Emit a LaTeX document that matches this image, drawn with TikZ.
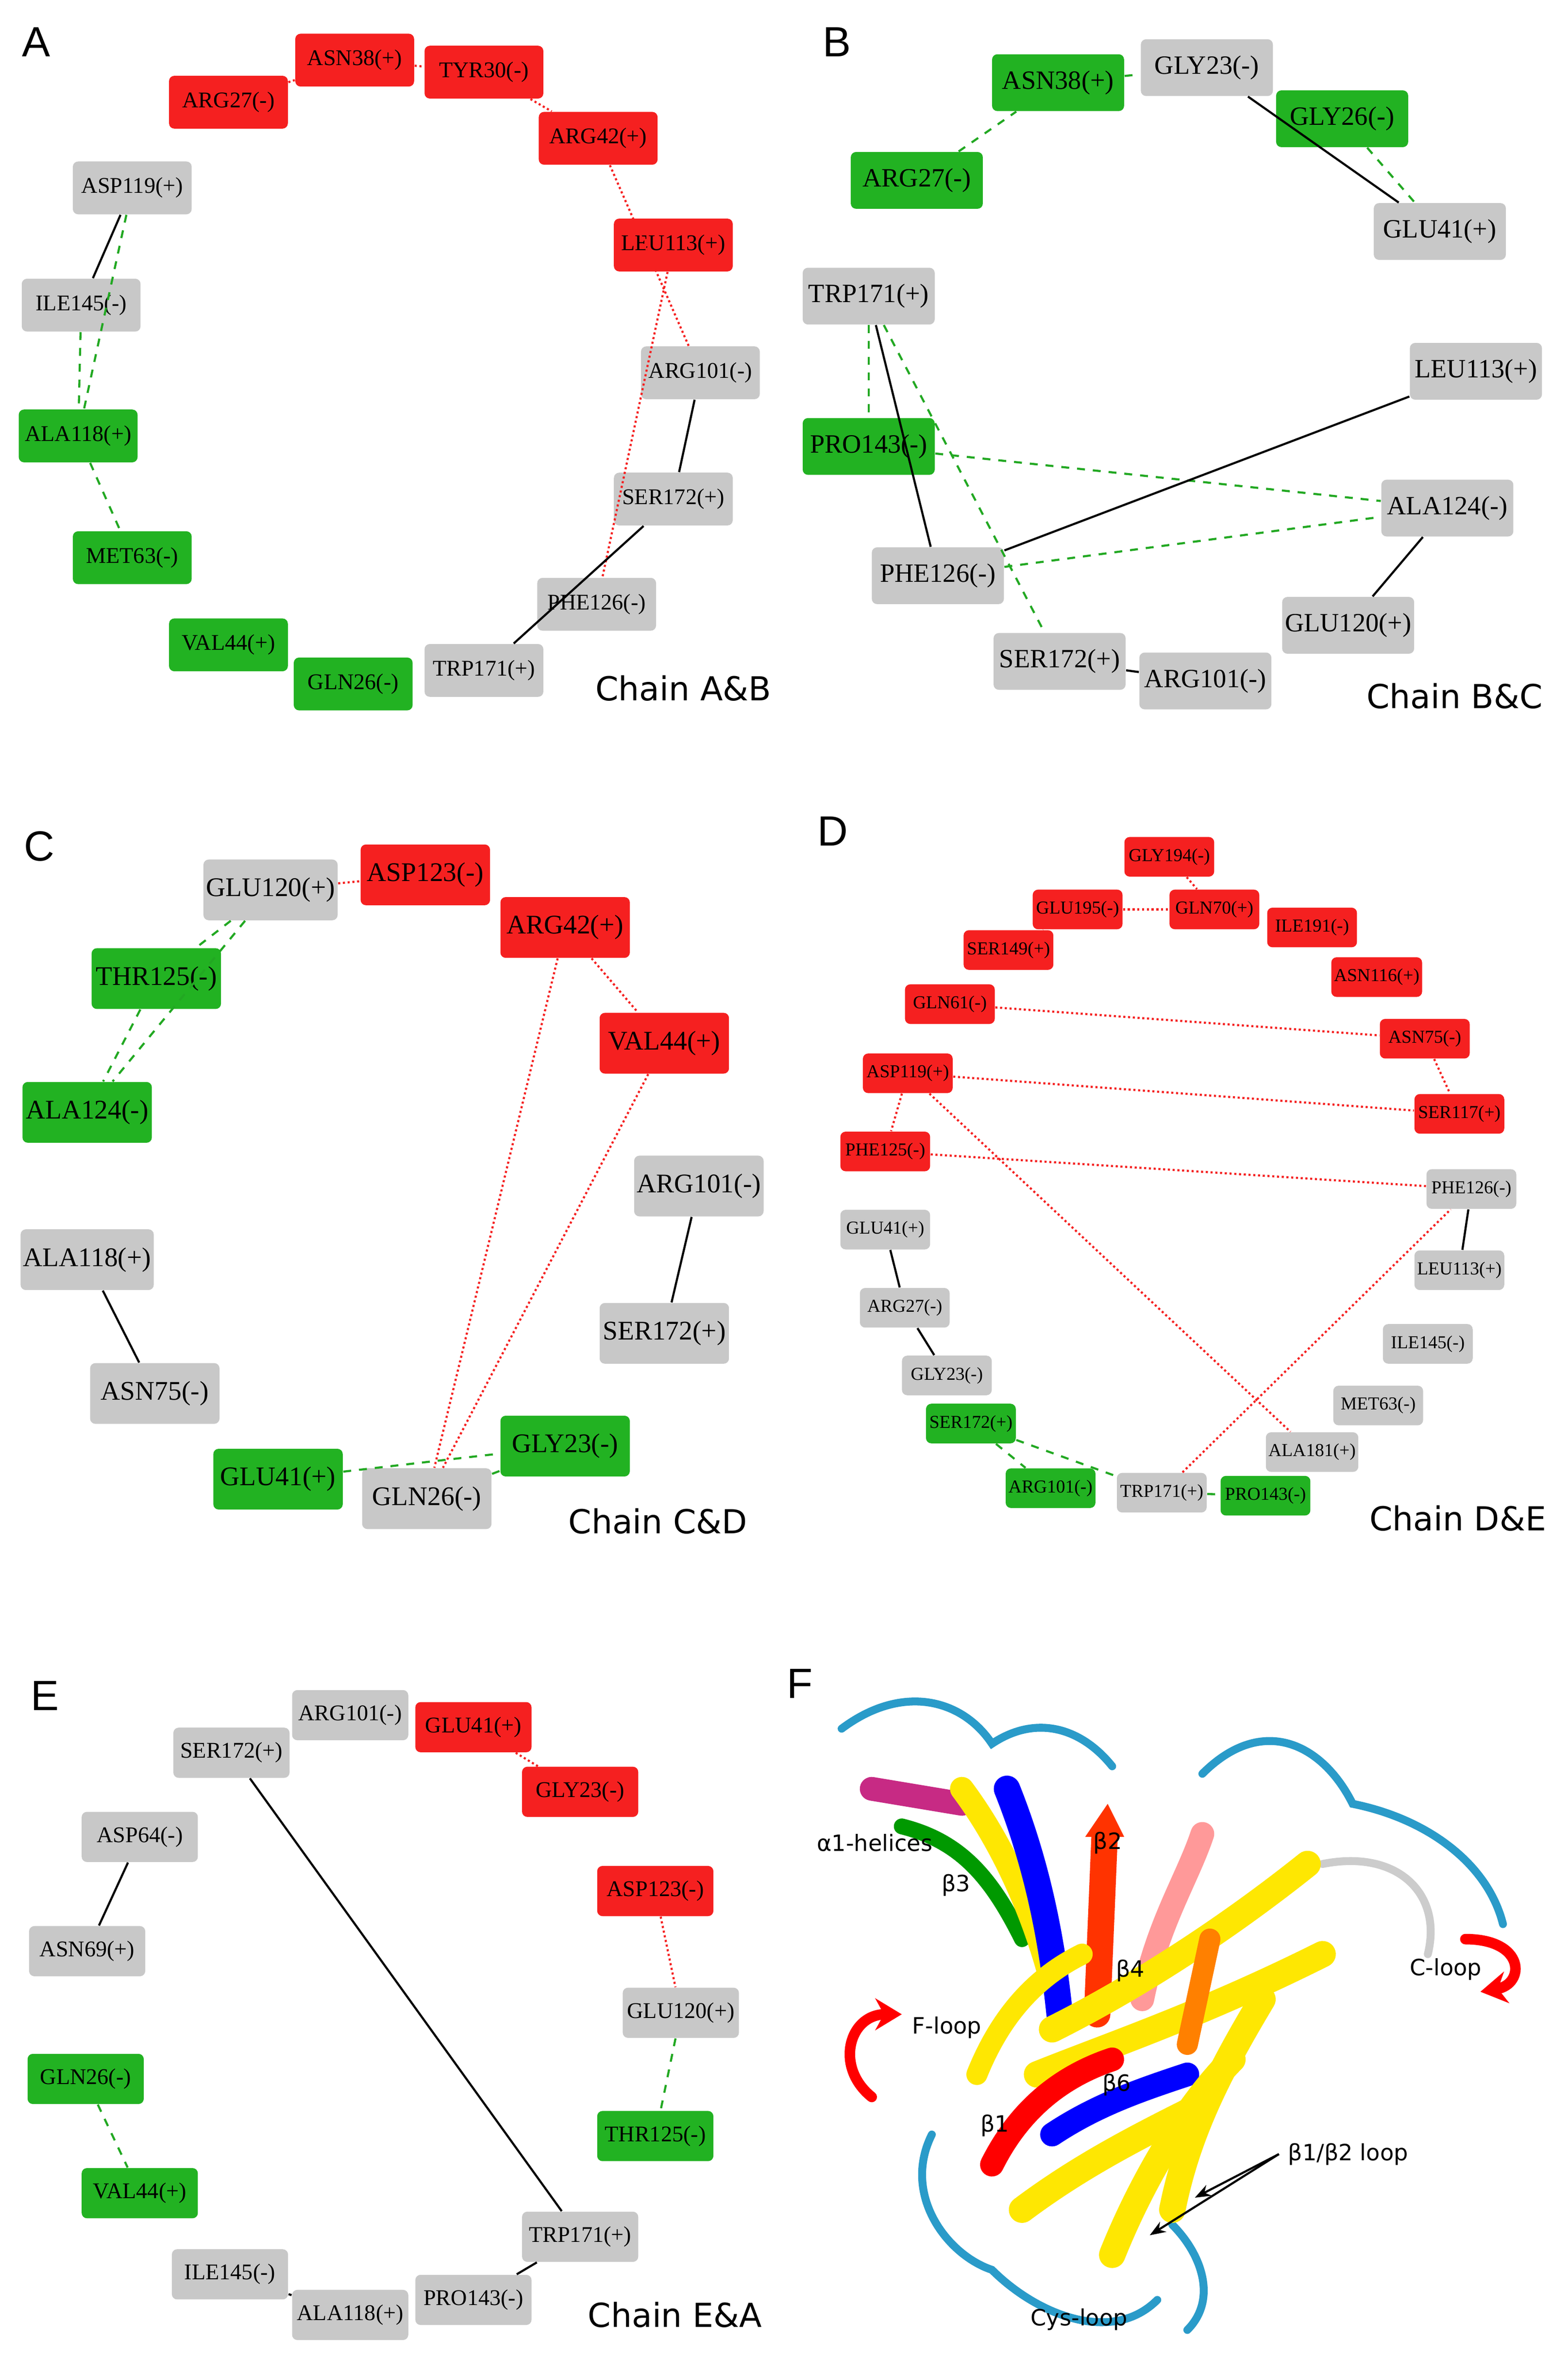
\documentclass[tikz,border=0pt]{standalone}
\usepackage{fontspec}
\setmainfont{Liberation Serif}
\newfontfamily\labfont{DejaVu Sans}
\newfontfamily\letfont{Liberation Sans}
\usetikzlibrary{arrows.meta}
\definecolor{rd}{HTML}{F52020}
\definecolor{gn}{HTML}{22B222}
\definecolor{gy}{HTML}{C8C8C8}
\definecolor{dgn}{HTML}{22A822}
\begin{document}
\begin{tikzpicture}[x=0.02cm,y=-0.02cm,
 bx/.style={rounded corners=2pt,inner sep=1pt,text=black},
 pa/.style={bx,minimum width=45pt,minimum height=20pt,font=\fontsize{8.5}{9}\selectfont},
 pb/.style={bx,minimum width=50pt,minimum height=21.5pt,font=\fontsize{10}{11}\selectfont},
 pc/.style={bx,minimum width=49pt,minimum height=23pt,font=\fontsize{10.2}{11}\selectfont},
 pd/.style={bx,minimum width=34pt,minimum height=15pt,font=\fontsize{6.9}{7}\selectfont},
 pe/.style={bx,minimum width=44pt,minimum height=19pt,font=\fontsize{8.5}{9}\selectfont},
 R/.style={fill=rd},G/.style={fill=gn},Y/.style={fill=gy},
 rl/.style={draw=rd,densely dotted,thick},
 gl/.style={draw=dgn,dashed,thick},
 bl/.style={draw=black,thick},
 chain/.style={font=\labfont\fontsize{12.5}{13}\selectfont,anchor=west},
 fl/.style={font=\labfont\fontsize{8.5}{9}\selectfont},
 pl/.style={font=\letfont\fontsize{16}{17}\selectfont}]
\useasboundingbox (0,0) rectangle (1043,1568);
\fill[white] (0,0) rectangle (1043,1568);
% panel letters
\node[pl] (LA) at (24,28) {A};
\node[pl] (LB) at (557,28) {B};
\node[pl] (LC) at (26,563) {C};
\node[pl] (LD) at (554,553) {D};
\node[pl] (LE) at (30,1128) {E};
\node[pl] (LF) at (532,1120) {F};
% ===== A
\node[pa,R] (a1) at (152,68) {ARG27(-)};
\node[pa,R] (a2) at (236,40) {ASN38(+)};
\node[pa,R] (a3) at (322,48) {TYR30(-)};
\node[pa,R] (a4) at (398,92) {ARG42(+)};
\node[pa,R] (a5) at (448,163) {LEU113(+)};
\node[pa,Y] (a6) at (88,125) {ASP119(+)};
\node[pa,Y] (a7) at (54,203) {ILE145(-)};
\node[pa,Y] (a8) at (466,248) {ARG101(-)};
\node[pa,G] (a9) at (52,290) {ALA118(+)};
\node[pa,Y] (a10) at (448,332) {SER172(+)};
\node[pa,G] (a11) at (88,371) {MET63(-)};
\node[pa,Y] (a12) at (397,402) {PHE126(-)};
\node[pa,G] (a13) at (152,429) {VAL44(+)};
\node[pa,G] (a14) at (235,455) {GLN26(-)};
\node[pa,Y] (a15) at (322,446) {TRP171(+)};
\node[chain] (ca) at (390,458) {Chain A\&B};
\draw[rl] (a1)--(a2); \draw[rl] (a2)--(a3); \draw[rl] (a3)--(a4);
\draw[rl] (a4)--(a8); \draw[rl] (a5)--(a12);
\draw[bl] (a6)--(a7); \draw[gl] (a6)--(a9); \draw[gl] (a7)--(a9);
\draw[gl] (a9)--(a11); \draw[bl] (a8)--(a10); \draw[bl] (a10)--(a15);
% ===== B
\node[pb,G] (b1) at (704,55) {ASN38(+)};
\node[pb,Y] (b2) at (803,45) {GLY23(-)};
\node[pb,G] (b3) at (893,79) {GLY26(-)};
\node[pb,G] (b4) at (610,120) {ARG27(-)};
\node[pb,Y] (b5) at (958,154) {GLU41(+)};
\node[pb,Y] (b6) at (578,197) {TRP171(+)};
\node[pb,Y] (b7) at (982,247) {LEU113(+)};
\node[pb,G] (b8) at (578,297) {PRO143(-)};
\node[pb,Y] (b9) at (963,338) {ALA124(-)};
\node[pb,Y] (b10) at (624,383) {PHE126(-)};
\node[pb,Y] (b11) at (897,416) {GLU120(+)};
\node[pb,Y] (b12) at (705,440) {SER172(+)};
\node[pb,Y] (b13) at (802,453) {ARG101(-)};
\node[chain] (cb) at (903,463) {Chain B\&C};
\draw[gl] (b4)--(b1); \draw[gl] (b1)--(b2); \draw[bl] (b2)--(b5); \draw[gl] (b3)--(b5);
\draw[gl] (b6)--(b8); \draw[bl] (b6)--(b10); \draw[gl] (b6)--(b12);
\draw[gl] (b8)--(b9); \draw[gl] (b10)--(b9); \draw[bl] (b10)--(b7);
\draw[bl] (b9)--(b11); \draw[bl] (b12)--(b13);
% ===== C
\node[pc,Y] (c1) at (180,592) {GLU120(+)};
\node[pc,R] (c2) at (283,582) {ASP123(-)};
\node[pc,R] (c3) at (376,617) {ARG42(+)};
\node[pc,G] (c4) at (104,651) {THR125(-)};
\node[pc,R] (c5) at (442,694) {VAL44(+)};
\node[pc,G] (c6) at (58,740) {ALA124(-)};
\node[pc,Y] (c7) at (465,789) {ARG101(-)};
\node[pc,Y] (c8) at (58,838) {ALA118(+)};
\node[pc,Y] (c9) at (442,887) {SER172(+)};
\node[pc,Y] (c10) at (103,927) {ASN75(-)};
\node[pc,G] (c11) at (376,962) {GLY23(-)};
\node[pc,G] (c12) at (185,984) {GLU41(+)};
\node[pc,Y] (c13) at (284,997) {GLN26(-)};
\node[chain] (cc) at (372,1012) {Chain C\&D};
\draw[rl] (c1)--(c2); \draw[gl] (c1)--(c4); \draw[gl] (c1)--(c6); \draw[gl] (c4)--(c6);
\draw[rl] (c3)--(c5); \draw[rl] (c3)--(c13); \draw[rl] (c5)--(c13);
\draw[bl] (c7)--(c9); \draw[bl] (c8)--(c10);
\draw[gl] (c12)--(c11); \draw[gl] (c13)--(c11);
% ===== D
\node[pd,R] (d1) at (778,570) {GLY194(-)};
\node[pd,R] (d2) at (717,605) {GLU195(-)};
\node[pd,R] (d3) at (808,605) {GLN70(+)};
\node[pd,R] (d4) at (873,617) {ILE191(-)};
\node[pd,R] (d5) at (671,632) {SER149(+)};
\node[pd,R] (d6) at (916,650) {ASN116(+)};
\node[pd,R] (d7) at (632,668) {GLN61(-)};
\node[pd,R] (d8) at (948,691) {ASN75(-)};
\node[pd,R] (d9) at (604,714) {ASP119(+)};
\node[pd,R] (d10) at (971,741) {SER117(+)};
\node[pd,R] (d11) at (589,766) {PHE125(-)};
\node[pd,Y] (d12) at (979,791) {PHE126(-)};
\node[pd,Y] (d13) at (589,818) {GLU41(+)};
\node[pd,Y] (d14) at (971,845) {LEU113(+)};
\node[pd,Y] (d15) at (602,870) {ARG27(-)};
\node[pd,Y] (d16) at (950,894) {ILE145(-)};
\node[pd,Y] (d17) at (630,915) {GLY23(-)};
\node[pd,Y] (d18) at (917,935) {MET63(-)};
\node[pd,G] (d19) at (646,947) {SER172(+)};
\node[pd,Y] (d20) at (873,966) {ALA181(+)};
\node[pd,G] (d21) at (699,990) {ARG101(-)};
\node[pd,Y] (d22) at (773,993) {TRP171(+)};
\node[pd,G] (d23) at (842,995) {PRO143(-)};
\node[chain] (cd) at (905,1010) {Chain D\&E};
\draw[rl] (d2)--(d3); \draw[rl] (d2)--(d5); \draw[rl] (d1)--(d3);
\draw[rl] (d7)--(d8); \draw[rl] (d8)--(d10); \draw[rl] (d9)--(d10);
\draw[rl] (d9)--(d11); \draw[rl] (d9)--(d20); \draw[rl] (d11)--(d12);
\draw[rl] (d22)--(d12);
\draw[bl] (d12)--(d14); \draw[bl] (d13)--(d15); \draw[bl] (d15)--(d17);
\draw[gl] (d19)--(d21); \draw[gl] (d19)--(d22); \draw[gl] (d22)--(d23);
% ===== E
\node[pe,Y] (e1) at (233,1141) {ARG101(-)};
\node[pe,R] (e2) at (315,1149) {GLU41(+)};
\node[pe,Y] (e3) at (154,1166) {SER172(+)};
\node[pe,R] (e4) at (386,1192) {GLY23(-)};
\node[pe,Y] (e5) at (93,1222) {ASP64(-)};
\node[pe,R] (e6) at (436,1258) {ASP123(-)};
\node[pe,Y] (e7) at (58,1298) {ASN69(+)};
\node[pe,Y] (e8) at (453,1339) {GLU120(+)};
\node[pe,G] (e9) at (57,1383) {GLN26(-)};
\node[pe,G] (e10) at (436,1421) {THR125(-)};
\node[pe,G] (e11) at (93,1459) {VAL44(+)};
\node[pe,Y] (e12) at (386,1488) {TRP171(+)};
\node[pe,Y] (e13) at (153,1513) {ILE145(-)};
\node[pe,Y] (e14) at (315,1530) {PRO143(-)};
\node[pe,Y] (e15) at (233,1540) {ALA118(+)};
\node[chain] (ce) at (385,1540) {Chain E\&A};
\draw[rl] (e2)--(e4); \draw[bl] (e5)--(e7); \draw[bl] (e3)--(e12);
\draw[rl] (e6)--(e8); \draw[gl] (e8)--(e10); \draw[gl] (e9)--(e11);
\draw[bl] (e13)--(e15); \draw[bl] (e14)--(e12);
% ===== F (stylised ribbon)
\begin{scope}[line cap=round]
\draw[cyan!60!teal,line width=3pt] (560,1150) .. controls (600,1120) and (640,1130) .. (660,1160) .. controls (690,1140) and (720,1150) .. (740,1175);
\draw[cyan!60!teal,line width=3pt] (800,1180) .. controls (840,1140) and (880,1160) .. (900,1200) .. controls (950,1210) and (990,1240) .. (1000,1280);
\draw[gray!40,line width=3pt] (880,1240) .. controls (930,1230) and (960,1260) .. (950,1300);
\draw[cyan!60!teal,line width=3pt] (620,1420) .. controls (600,1460) and (630,1500) .. (660,1510) .. controls (690,1540) and (740,1560) .. (770,1530);
\draw[cyan!60!teal,line width=3pt] (780,1480) .. controls (800,1500) and (810,1530) .. (790,1550);
\draw[magenta!80!black,line width=9pt] (580,1190) -- (640,1200);
\draw[green!60!black,line width=6pt] (600,1215) .. controls (640,1225) and (660,1250) .. (680,1290);
\draw[yellow!90!orange,line width=9pt] (640,1190) .. controls (670,1230) and (690,1280) .. (700,1320);
\draw[blue,line width=10pt] (670,1190) .. controls (690,1240) and (700,1290) .. (705,1340);
\draw[orange!40!red,line width=10pt] (730,1340) -- (735,1220);
\fill[orange!40!red] (722,1222) -- (748,1222) -- (737,1200) -- cycle;
\draw[pink!80!red,line width=9pt] (760,1330) .. controls (770,1280) and (790,1250) .. (800,1220);
\draw[yellow!90!orange,line width=10pt] (700,1350) .. controls (760,1320) and (820,1280) .. (870,1240);
\draw[yellow!90!orange,line width=10pt] (690,1380) .. controls (740,1360) and (800,1340) .. (880,1300);
\draw[orange,line width=8pt] (790,1360) -- (805,1290);
\draw[red,line width=9pt] (660,1440) .. controls (680,1400) and (710,1380) .. (740,1370);
\draw[blue,line width=9pt] (700,1420) .. controls (730,1400) and (760,1390) .. (790,1380);
\draw[yellow!90!orange,line width=10pt] (680,1470) .. controls (720,1440) and (760,1420) .. (800,1400);
\draw[yellow!90!orange,line width=10pt] (780,1470) .. controls (790,1420) and (810,1380) .. (840,1330);
\draw[yellow!90!orange,line width=10pt] (740,1500) .. controls (760,1450) and (790,1400) .. (820,1370);
\draw[yellow!90!orange,line width=8pt] (650,1380) .. controls (670,1330) and (700,1310) .. (720,1300);
\draw[red,line width=4pt,-{Stealth[length=10pt,width=12pt]}] (580,1395) .. controls (555,1375) and (565,1340) .. (600,1340);
\draw[red,line width=4pt,-{Stealth[length=10pt,width=12pt]}] (975,1290) .. controls (1015,1290) and (1015,1320) .. (985,1325);
\end{scope}
\node[fl] (f1) at (582,1226) {α1-helices};
\node[fl] (f2) at (636,1254) {β3};
\node[fl] (f3) at (737,1226) {β2};
\node[fl] (f4) at (752,1311) {β4};
\node[fl] (f5) at (962,1310) {C-loop};
\node[fl] (f6) at (630,1349) {F-loop};
\node[fl] (f7) at (743,1387) {β6};
\node[fl] (f8) at (662,1414) {β1};
\node[fl] (f9) at (897,1433) {β1/β2 loop};
\node[fl] (f10) at (718,1543) {Cys-loop};
\coordinate (t1) at (795,1462);
\coordinate (t2) at (765,1487);
\draw[-{Stealth[length=6pt]},thick] (f9.west) -- (t1);
\draw[-{Stealth[length=6pt]},thick] (f9.west) -- (t2);
\end{tikzpicture}
\end{document}
